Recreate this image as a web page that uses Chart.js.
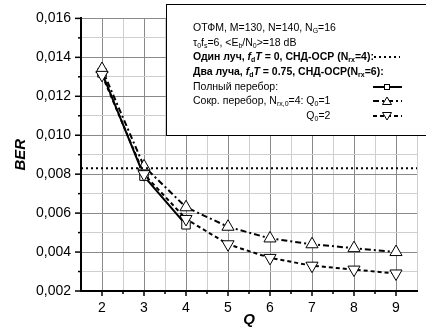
<!DOCTYPE html>
<html>
<head>
<meta charset="utf-8">
<script src="https://cdn.jsdelivr.net/npm/chart.js@4.4.1/dist/chart.umd.min.js"></script>
<style>
  html, body { margin: 0; padding: 0; background: #fff; }
  #wrap { width: 426px; height: 330px; }
</style>
</head>
<body>
<div id="wrap"><canvas id="berChart"></canvas></div>
<script>
// Q values (x axis)
const qValues = [2, 3, 4, 5, 6, 7, 8, 9];
// full search (only Q = 2..4)
const fullSearchQ = [2, 3, 4];
const fullSearch = [0.0132, 0.0079, 0.0054];
// reduced search, Q0 = 1 and Q0 = 2
const reducedQ01 = [0.0134, 0.0084, 0.0063, 0.0053, 0.0047, 0.0044, 0.0042, 0.0040];
const reducedQ02 = [0.0131, 0.0080, 0.0057, 0.0044, 0.0037, 0.0033, 0.0031, 0.0029];
// one ray reference level
const oneRayBER = 0.0083;
const xRange = [1.5, 9.5];
const yRange = [0.002, 0.016];

const FONT = '"Liberation Sans", Arial, sans-serif';
const MAJOR = '#8a8a8a';
const MINOR = '#cfcfcf';

function toPoints(xs, ys) {
    return ys.map((y, i) => ({ x: xs[i], y: y }));
}

function isInt(v) {
    return Math.abs(v - Math.round(v)) < 1e-6;
}

function isMajorY(v) {
    return Math.round(v * 1000) % 2 === 0;
}

// draws text made of pieces: [text, kind]  kind: '', 'b', 'bi', 's' (sub), 'bs' (bold sub)
function drawRich(ctx, x, y, parts, size) {
    let cx = x;
    parts.forEach(p => {
        const t = p[0];
        const k = p[1] || '';
        const bold = k.indexOf('b') >= 0 ? 'bold ' : '';
        const ital = k.indexOf('i') >= 0 ? 'italic ' : '';
        const sub = k.indexOf('s') >= 0;
        const fs = sub ? Math.round(size * 0.62) : size;
        ctx.font = ital + bold + fs + 'px ' + FONT;
        ctx.fillText(t, cx, sub ? y + 3 : y);
        cx += ctx.measureText(t).width;
    });
    return cx;
}

const axisTicks = {
    id: 'axisTicks',
    afterDraw(chart) {
        const ctx = chart.ctx;
        const xs = chart.scales.x;
        const ys = chart.scales.y;
        const area = chart.chartArea;
        ctx.save();
        ctx.strokeStyle = '#000';
        ctx.lineWidth = 1.5;
        // left axis ticks
        for (let i = 2; i <= 16; i++) {
            const py = ys.getPixelForValue(i / 1000);
            const len = i % 2 === 0 ? 6 : 3;
            ctx.beginPath();
            ctx.moveTo(area.left - len, py);
            ctx.lineTo(area.left, py);
            ctx.stroke();
        }
        // bottom axis ticks
        for (let v = 2; v <= 9.01; v += 0.5) {
            const px = xs.getPixelForValue(v);
            const len = isInt(v) ? 5 : 3;
            ctx.beginPath();
            ctx.moveTo(px, area.bottom);
            ctx.lineTo(px, area.bottom + len);
            ctx.stroke();
        }
        ctx.restore();
    }
};

const legendBox = {
    id: 'legendBox',
    afterDraw(chart) {
        const ctx = chart.ctx;
        ctx.save();
        ctx.fillStyle = '#fff';
        ctx.fillRect(166, 4, 270, 131);
        ctx.strokeStyle = '#000';
        ctx.lineWidth = 1;
        ctx.strokeRect(166.5, 4.5, 270, 131);

        ctx.fillStyle = '#000';
        ctx.textBaseline = 'middle';
        ctx.textAlign = 'left';
        const x0 = 193;
        const fs = 10.5;
        drawRich(ctx, x0, 28, [['ОТФМ, M=130, N=140, N'], ['G', 's'], ['=16']], fs);
        drawRich(ctx, x0, 43, [['τ'], ['0', 's'], ['f'], ['s', 's'], ['=6, <E'], ['b', 's'], ['/N'], ['0', 's'], ['>=18 dB']], fs);
        drawRich(ctx, x0, 57, [['Один луч, ', 'b'], ['f', 'bi'], ['d', 'bs'], ['T', 'bi'], [' = 0, СНД-ОСР (N', 'b'], ['rx', 'bs'], ['=4):', 'b']], fs);
        drawRich(ctx, x0, 72, [['Два луча, ', 'b'], ['f', 'bi'], ['d', 'bs'], ['T', 'bi'], [' = 0.75, СНД-ОСР(N', 'b'], ['rx', 'bs'], ['=6):', 'b']], fs);
        drawRich(ctx, x0, 87, [['Полный перебор:']], fs);
        const qx = drawRich(ctx, x0, 101, [['Сокр. перебор, N'], ['rx,0', 's'], ['=4: ']], fs);
        drawRich(ctx, qx, 101, [['Q'], ['0', 's'], ['=1']], fs);
        drawRich(ctx, qx, 116, [['Q'], ['0', 's'], ['=2']], fs);

        // samples
        ctx.strokeStyle = '#000';
        ctx.lineWidth = 2;
        ctx.setLineDash([2, 3]);
        ctx.beginPath(); ctx.moveTo(374, 57); ctx.lineTo(400, 57); ctx.stroke();

        ctx.setLineDash([]);
        ctx.beginPath(); ctx.moveTo(373, 87); ctx.lineTo(402, 87); ctx.stroke();
        ctx.lineWidth = 1;
        ctx.fillStyle = '#fff';
        ctx.fillRect(384, 84, 6, 6);
        ctx.strokeRect(384.5, 84.5, 5, 5);

        ctx.lineWidth = 2;
        ctx.setLineDash([6, 3, 2, 3]);
        ctx.beginPath(); ctx.moveTo(373, 101); ctx.lineTo(402, 101); ctx.stroke();
        ctx.setLineDash([]);
        ctx.lineWidth = 1;
        ctx.beginPath(); ctx.moveTo(387, 97); ctx.lineTo(391.5, 104.5); ctx.lineTo(382.5, 104.5); ctx.closePath();
        ctx.fill(); ctx.stroke();

        ctx.lineWidth = 2;
        ctx.setLineDash([4, 3]);
        ctx.beginPath(); ctx.moveTo(373, 116); ctx.lineTo(402, 116); ctx.stroke();
        ctx.setLineDash([]);
        ctx.lineWidth = 1;
        ctx.beginPath(); ctx.moveTo(387, 120); ctx.lineTo(391.5, 112.5); ctx.lineTo(382.5, 112.5); ctx.closePath();
        ctx.fill(); ctx.stroke();
        ctx.restore();
    }
};

const ctx = document.getElementById('berChart').getContext('2d');
new Chart(ctx, {
    type: 'line',
    data: {
        datasets: [
            {
                label: 'Один луч',
                data: [{ x: xRange[0], y: oneRayBER }, { x: xRange[1], y: oneRayBER }],
                borderColor: '#000',
                borderWidth: 2,
                borderDash: [2, 3],
                pointRadius: 0
            },
            {
                label: 'Q0=2',
                data: toPoints(qValues, reducedQ02),
                borderColor: '#000',
                borderWidth: 2,
                borderDash: [4, 3],
                pointStyle: 'triangle',
                rotation: 180,
                pointRadius: 7,
                pointBackgroundColor: '#fff',
                pointBorderColor: '#000',
                pointBorderWidth: 1
            },
            {
                label: 'Q0=1',
                data: toPoints(qValues, reducedQ01),
                borderColor: '#000',
                borderWidth: 2,
                borderDash: [6, 3, 2, 3],
                pointStyle: 'triangle',
                pointRadius: 7,
                pointBackgroundColor: '#fff',
                pointBorderColor: '#000',
                pointBorderWidth: 1
            },
            {
                label: 'Полный перебор',
                data: toPoints(fullSearchQ, fullSearch),
                borderColor: '#000',
                borderWidth: 2,
                pointStyle: 'rect',
                pointRadius: 6,
                pointBackgroundColor: '#fff',
                pointBorderColor: '#000',
                pointBorderWidth: 1
            }
        ]
    },
    options: {
        responsive: true,
        maintainAspectRatio: false,
        animation: false,
        layout: { padding: { top: 14, right: 0, left: 0, bottom: 0 } },
        plugins: {
            legend: { display: false },
            tooltip: { enabled: false }
        },
        scales: {
            x: {
                type: 'linear',
                min: xRange[0],
                max: xRange[1],
                afterFit: s => { s.height = 39; },
                ticks: {
                    stepSize: 0.5,
                    padding: 9,
                    color: '#000',
                    font: { family: FONT, size: 14 },
                    maxRotation: 0,
                    autoSkip: false,
                    callback: v => isInt(v) ? String(Math.round(v)) : ''
                },
                grid: {
                    drawTicks: false,
                    color: c => isInt(c.tick.value) ? MAJOR : MINOR,
                    lineWidth: 1
                },
                border: { color: '#000', width: 2 },
                title: {
                    display: true,
                    text: 'Q',
                    color: '#000',
                    font: { family: FONT, size: 15, weight: 'bold', style: 'italic' },
                    padding: { top: 0, bottom: 1 }
                }
            },
            y: {
                min: yRange[0],
                max: yRange[1],
                afterFit: s => { s.width = 81; },
                ticks: {
                    stepSize: 0.001,
                    padding: 10,
                    color: '#000',
                    font: { family: FONT, size: 14 },
                    autoSkip: false,
                    callback: v => isMajorY(v) ? v.toFixed(3).replace('.', ',') : ''
                },
                grid: {
                    drawTicks: false,
                    color: c => isMajorY(c.tick.value) ? MAJOR : MINOR,
                    lineWidth: 1
                },
                border: { color: '#000', width: 2 },
                title: {
                    display: true,
                    text: 'BER',
                    color: '#000',
                    font: { family: FONT, size: 15, weight: 'bold', style: 'italic' },
                    padding: { top: 12, bottom: 0 }
                }
            }
        }
    },
    plugins: [axisTicks, legendBox]
});
</script>
</body>
</html>
